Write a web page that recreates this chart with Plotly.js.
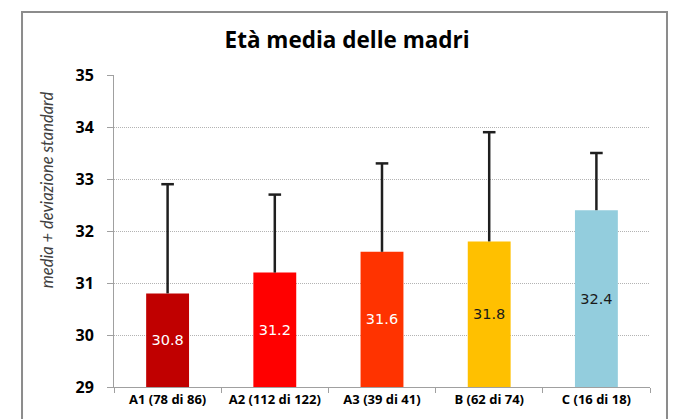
<!DOCTYPE html>
<html>
<head>
<meta charset="utf-8">
<script src="https://cdn.plot.ly/plotly-3.0.1.min.js"></script>
<style>
  html, body { margin: 0; padding: 0; background: #fff; }
  #chart { width: 674px; height: 419px; }
</style>
</head>
<body>
<div id="chart"></div>
<script>
var categories = ['A1 (78 di 86)', 'A2 (112 di 122)', 'A3 (39 di 41)', 'B (62 di 74)', 'C (16 di 18)'];
var means = [30.8, 31.2, 31.6, 31.8, 32.4];
var upperEnds = [32.9, 32.7, 33.3, 33.9, 33.5];
var barColors = ['#c00000', '#ff0000', '#ff3300', '#ffc000', '#93cddd'];
var labelColors = ['#ffffff', '#ffffff', '#ffffff', '#1a1a1a', '#1a1a1a'];

var deviations = means.map((m, i) => +(upperEnds[i] - m).toFixed(2));

var traceBars = {
    type: 'bar',
    x: categories,
    y: means.map(m => m - 29),
    base: 29,
    width: 0.4,
    marker: { color: barColors, line: { width: 0 } },
    text: means.map(m => m.toFixed(1)),
    textposition: 'inside',
    insidetextanchor: 'middle',
    textangle: 0,
    insidetextfont: { family: 'DejaVu Sans', size: 14.5, color: labelColors },
    error_y: {
        type: 'data',
        symmetric: false,
        array: deviations,
        arrayminus: deviations.map(() => 0),
        color: '#1f1f1f',
        thickness: 2.5,
        width: 0
    },
    hoverinfo: 'none'
}

// cap on top of each standard deviation whisker
var traceCaps = {
    type: 'scatter',
    mode: 'markers',
    x: categories,
    y: upperEnds,
    marker: { symbol: 'line-ew', size: 9, line: { width: 2.5, color: '#1f1f1f' } },
    hoverinfo: 'none'
}

var layout = {
    width: 674,
    height: 419,
    margin: { l: 114, r: 24, t: 75, b: 32 },
    paper_bgcolor: '#ffffff',
    plot_bgcolor: '#ffffff',
    showlegend: false,
    title: {
        text: 'Età media delle madri',
        font: { family: 'Open Sans', size: 22.5, color: '#000000', weight: 'bold' },
        x: 0.515,
        xanchor: 'center',
        y: 0.905,
        yanchor: 'middle'
    },
    xaxis: {
        type: 'category',
        showline: true,
        linecolor: '#a0a0a0',
        linewidth: 1,
        ticks: 'outside',
        tickson: 'boundaries',
        ticklen: 5,
        tickcolor: '#a0a0a0',
        showgrid: false,
        tickfont: { family: 'Open Sans', size: 13, color: '#000000', weight: 'bold' }
    },
    yaxis: {
        range: [29, 35],
        dtick: 1,
        showline: true,
        linecolor: '#a0a0a0',
        linewidth: 1,
        ticks: 'outside',
        ticklen: 6,
        tickcolor: '#a0a0a0',
        ticklabelstandoff: 10,
        showgrid: true,
        gridcolor: '#b3b3b3',
        griddash: '1px,1px',
        gridwidth: 1,
        zeroline: false,
        tickfont: { family: 'Open Sans', size: 16, color: '#000000', weight: 'bold' }
    },
    annotations: [{
        text: '<i>media + deviazione standard</i>',
        xref: 'paper', yref: 'paper',
        x: -0.125, y: 0.631,
        xanchor: 'center', yanchor: 'middle',
        textangle: -90,
        showarrow: false,
        font: { family: 'Lato', size: 16.5, color: '#404040' }
    }],
    shapes: [{
        type: 'rect',
        xref: 'paper', yref: 'paper',
        x0: -0.1716, x1: 1.0317,
        y0: -0.15, y1: 1.2019,
        line: { color: '#8c8c8c', width: 2 },
        fillcolor: 'rgba(0,0,0,0)',
        layer: 'below'
    }]
}

Plotly.newPlot('chart', [traceBars, traceCaps], layout, { staticPlot: true, displayModeBar: false })
</script>
</body>
</html>
